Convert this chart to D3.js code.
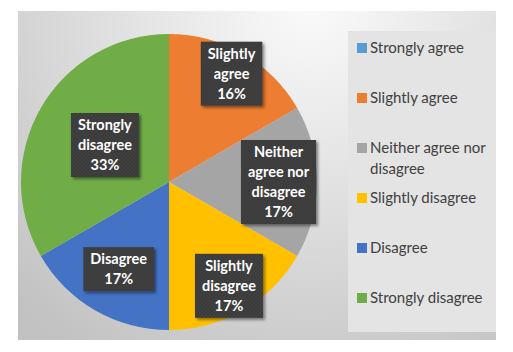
<!DOCTYPE html>
<html>
<head>
<meta charset="utf-8">
<script src="https://cdn.jsdelivr.net/npm/d3@7"></script>
<style>
  body { margin: 0; background: #fff; }
  #container { width: 513px; height: 352px; }
</style>
</head>
<body>
<div id="container"></div>
<script>
const width = 513;
const height = 352;

// data
const categories = ["Strongly agree", "Slightly agree", "Neither agree nor disagree", "Slightly disagree", "Disagree", "Strongly disagree"];
const counts = [0, 1, 1, 1, 1, 2];
const percentLabels = ["0%", "16%", "17%", "17%", "17%", "33%"];
const labelLines = [
  ["Strongly", "agree"],
  ["Slightly", "agree"],
  ["Neither", "agree nor", "disagree"],
  ["Slightly", "disagree"],
  ["Disagree"],
  ["Strongly", "disagree"]
];
const legendLines = [
  ["Strongly agree"],
  ["Slightly agree"],
  ["Neither agree nor", "disagree"],
  ["Slightly disagree"],
  ["Disagree"],
  ["Strongly disagree"]
];
const colors = ["#5B9BD5", "#ED7D31", "#A5A5A5", "#FFC000", "#4472C4", "#70AD47"];

// layout
const plot = {x: 18, y: 11, w: 478, h: 329};
const cx = 169, cy = 182, radius = 148;
const labelRadius = [0.85, 0.845, 0.74, 0.81, 0.68, 0.5];
const lineH = 20;

const viz = d3.select("#container").append("svg").attr("width", width).attr("height", height);
const defs = viz.append("defs");

let bgGrad = defs.append("radialGradient").attr("id", "bg")
  .attr("gradientUnits", "userSpaceOnUse")
  .attr("cx", 310).attr("cy", 0).attr("r", 420);
bgGrad.append("stop").attr("offset", "0").attr("stop-color", "#fbfbfb");
bgGrad.append("stop").attr("offset", "1").attr("stop-color", "#c2c2c2");

let dots = defs.append("pattern").attr("id", "dots")
  .attr("patternUnits", "userSpaceOnUse").attr("width", 4).attr("height", 4);
dots.append("rect").attr("width", 4).attr("height", 4).attr("fill", "#3a3a3a");
dots.append("circle").attr("cx", 1).attr("cy", 1).attr("r", 0.7).attr("fill", "#4e4e4e");
dots.append("circle").attr("cx", 3).attr("cy", 3).attr("r", 0.7).attr("fill", "#4e4e4e");

let shadow = defs.append("filter").attr("id", "shadow")
  .attr("x", "-20%").attr("y", "-20%").attr("width", "150%").attr("height", "150%");
shadow.append("feDropShadow").attr("dx", 2).attr("dy", 2).attr("stdDeviation", 1.5)
  .attr("flood-color", "#000").attr("flood-opacity", 0.45);

viz.append("rect").attr("x", plot.x).attr("y", plot.y).attr("width", plot.w).attr("height", plot.h)
  .attr("fill", "url(#bg)");

// pie
const pie = d3.pie().value(d => d).sort(null);
const arcs = pie(counts);
const arc = d3.arc().innerRadius(0).outerRadius(radius);
const pieGroup = viz.append("g").attr("transform", `translate(${cx},${cy})`);

pieGroup.selectAll(".slice").data(arcs).enter().append("path")
  .attr("class", "slice")
  .attr("d", arc)
  .attr("fill", (d, i) => colors[i]);

// data labels
const labels = pieGroup.selectAll(".lab").data(arcs.filter(d => d.value > 0)).enter()
  .append("g").attr("class", "lab")
  .attr("transform", d => {
    let r = radius * labelRadius[d.index];
    let c = d3.arc().innerRadius(r).outerRadius(r).centroid(d);
    return `translate(${c[0]},${c[1]})`;
  });

labels.each(function(d) {
  let g = d3.select(this);
  let lines = labelLines[d.index].concat([percentLabels[d.index]]);
  let box = g.append("rect").attr("fill", "url(#dots)").attr("filter", "url(#shadow)");
  let txt = g.append("text")
    .attr("text-anchor", "middle")
    .attr("font-family", "Lato, 'Open Sans', sans-serif")
    .attr("font-weight", "bold")
    .attr("font-size", 14.5)
    .attr("fill", "#fff");
  let y0 = -(lines.length - 1) * lineH / 2;
  lines.forEach((t, k) => {
    txt.append("tspan").attr("x", 0).attr("y", y0 + k * lineH).attr("dy", "0.35em").text(t);
  });
  let w = d3.max(txt.selectAll("tspan").nodes(), n => n.getComputedTextLength());
  let bw = w + 14;
  let bh = lines.length * lineH + 4;
  box.attr("x", -bw / 2).attr("y", -bh / 2).attr("width", bw).attr("height", bh);
});

// legend
const legend = {x: 348, y: 31, w: 148, h: 301};
viz.append("rect").attr("x", legend.x).attr("y", legend.y).attr("width", legend.w).attr("height", legend.h)
  .attr("fill", "#e4e4e4");

const itemY = d3.scalePoint().domain(categories).range([48, 298]);
const items = viz.selectAll(".legendItem").data(categories).enter().append("g")
  .attr("class", "legendItem")
  .attr("transform", d => `translate(${legend.x + 9},${itemY(d)})`);

items.append("rect").attr("x", 0).attr("y", -5).attr("width", 10).attr("height", 10)
  .attr("fill", (d, i) => colors[i]);

items.append("text")
  .attr("font-family", "Lato, 'Open Sans', sans-serif")
  .attr("font-size", 15)
  .attr("fill", "#404040")
  .each(function(d, i) {
    let t = d3.select(this);
    legendLines[i].forEach((line, k) => {
      t.append("tspan").attr("x", 13).attr("y", k * 21).attr("dy", "0.35em").text(line);
    });
  });
</script>
</body>
</html>
